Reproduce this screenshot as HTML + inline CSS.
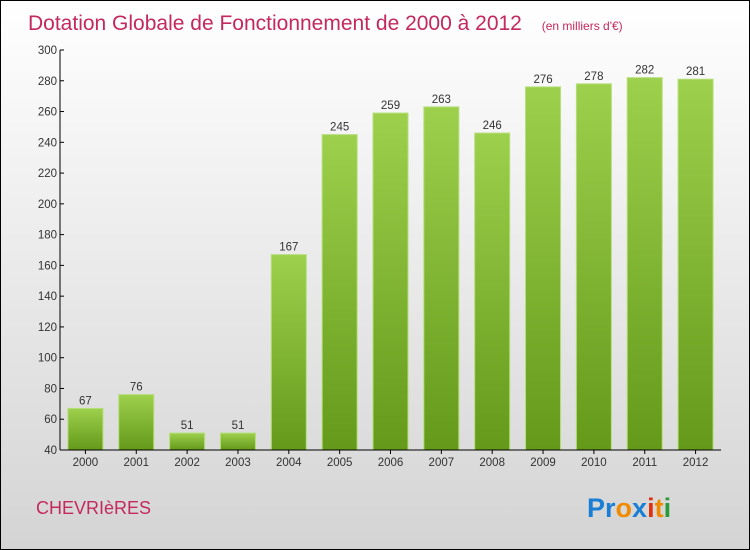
<!DOCTYPE html>
<html><head><meta charset="utf-8"><style>
body{margin:0}
#c{width:748px;height:548px;border:1px solid #000;position:relative;background:linear-gradient(#ffffff,#f2f2f2 30%,#d4d4d4);font-family:"Liberation Sans",sans-serif;overflow:hidden}
</style></head><body>
<div id="c">
<svg width="748" height="548" id="s">
<defs>
<linearGradient id="g" x1="0" y1="0" x2="0" y2="1"><stop offset="0" stop-color="#9dd04c"/><stop offset="1" stop-color="#64991a"/></linearGradient>
</defs>
<text x="27" y="29" font-size="21" fill="#c4285e">Dotation Globale de Fonctionnement de 2000 à 2012 <tspan font-size="12" dx="14">(en milliers d'€)</tspan></text>
<text x="35" y="513" font-size="18" fill="#c4285e">CHEVRIèRES</text>
<text x="586" y="516" font-size="27" font-weight="bold"><tspan fill="#1a7fd4">Pr</tspan><tspan fill="#f08a00">o</tspan><tspan fill="#1a7fd4">x</tspan><tspan fill="#e03010">i</tspan><tspan fill="#f08a00">t</tspan><tspan fill="#2a9a3a">i</tspan></text>
<g id="plot"></g>
</svg>
</div>
<script>
const categories=["2000","2001","2002","2003","2004","2005","2006","2007","2008","2009","2010","2011","2012"];
const values=[67,76,51,51,167,245,259,263,246,276,278,282,281];
const ticks=[40,60,80,100,120,140,160,180,200,220,240,260,280,300];
const NS="http://www.w3.org/2000/svg";
const g=document.getElementById('plot');
const x0=59,x1=720,yMin=40,yMax=300,yTop=49,yBot=449;
const y=v=>yBot-(v-yMin)/(yMax-yMin)*(yBot-yTop);
const step=(x1-x0)/categories.length;
const xc=i=>x0+step*(i+0.5);
function mk(t,a,txt){const e=document.createElementNS(NS,t);for(const k in a)e.setAttribute(k,a[k]);if(txt!==undefined)e.textContent=txt;g.appendChild(e);return e;}
values.forEach((v,i)=>{
const r=mk('rect',{x:xc(i)-17.5,y:y(v),width:35,height:yBot-y(v),fill:'url(#g)',stroke:'#b5de7a','stroke-width':1});


const t=mk('text',{x:xc(i),y:y(v)-4,'font-size':11.5,'text-anchor':'middle',fill:'#333'},v);


const c=mk('text',{x:xc(i),y:yBot+16,'font-size':11.5,'text-anchor':'middle',fill:'#333'},categories[i]);


mk('line',{x1:xc(i),x2:xc(i),y1:yBot,y2:yBot+4,stroke:'#000'});
});
ticks.forEach(v=>{
mk('line',{x1:x0,x2:x0+4,y1:y(v),y2:y(v),stroke:'#000'});
const t=mk('text',{x:x0-3,y:y(v)+4,'font-size':11.5,'text-anchor':'end',fill:'#333'},v);


});
const ya=mk('line',{x1:x0,x2:x0,y1:yTop,y2:yBot,stroke:'#000'});


const xa=mk('line',{x1:x0,x2:x1,y1:yBot,y2:yBot,stroke:'#000'});


</script>
</body></html>
